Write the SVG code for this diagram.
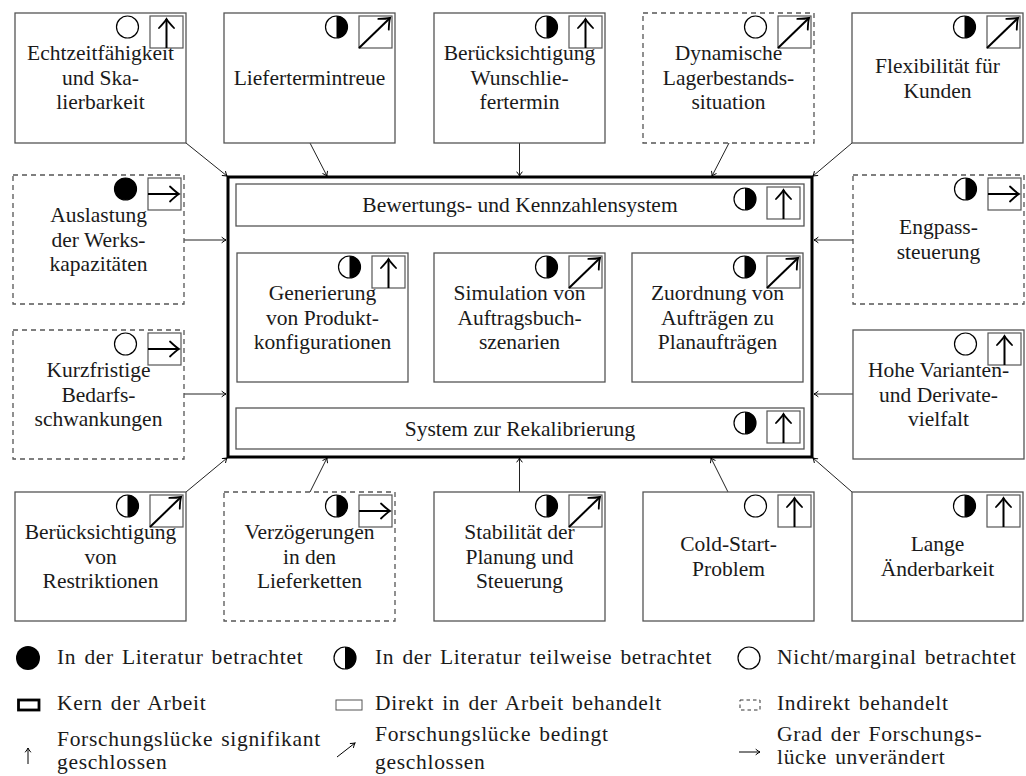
<svg xmlns="http://www.w3.org/2000/svg" xmlns:xlink="http://www.w3.org/1999/xlink" width="1026" height="776" viewBox="0 0 1026 776">
  <style>
    .box{fill:#fff;stroke:#555;stroke-width:1.3}
    .dash{stroke-dasharray:5 4}
    .core{fill:none;stroke:#000;stroke-width:3}
    .lbl{font-family:"Liberation Serif","Times New Roman",serif;font-size:21.5px;text-anchor:middle;fill:#1a1a1a}
    .leg{font-family:"Liberation Serif","Times New Roman",serif;font-size:21.5px;fill:#1a1a1a;letter-spacing:0.7px;word-spacing:2px}
    .ibox{fill:#fff;stroke:#555;stroke-width:1.2}
    .iarr{fill:none;stroke:#000;stroke-width:2;marker-end:url(#head)}
    .conn{fill:none;stroke:#222;stroke-width:1;marker-end:url(#tip)}
    .sarr{fill:none;stroke:#000;stroke-width:1;marker-end:url(#tip)}
  </style>
  <defs>
    <marker id="head" viewBox="-11 -9 13 18" refX="0" refY="0" markerWidth="13" markerHeight="18" markerUnits="userSpaceOnUse" orient="auto">
      <path d="M-9,-7.5 Q-3,-1.8 0,0 Q-3,1.8 -9,7.5" fill="none" stroke="#000" stroke-width="1.8" stroke-linecap="round"/>
    </marker>
    <marker id="tip" viewBox="-6 -4 8 8" refX="0" refY="0" markerWidth="8" markerHeight="8" markerUnits="userSpaceOnUse" orient="auto">
      <path d="M-4,-2.6 Q-1.5,-0.6 0,0 Q-1.5,0.6 -4,2.6" fill="none" stroke="#000" stroke-width="1" stroke-linecap="round"/>
    </marker>
    <!-- literature coverage markers -->
    <g id="c-full"><circle r="11" fill="#000" stroke="#000" stroke-width="1.2"/></g>
    <g id="c-half"><circle r="11" fill="#fff" stroke="#000" stroke-width="1.2"/><path d="M0,-11 A11,11 0 0 1 0,11 Z" fill="#000"/></g>
    <g id="c-none"><circle r="11" fill="#fff" stroke="#000" stroke-width="1.2"/></g>
    <!-- research gap markers -->
    <g id="a-up"><rect class="ibox" width="33" height="32"/><path class="iarr" d="M16.5,32 V3"/></g>
    <g id="a-diag"><rect class="ibox" width="33" height="32"/><path class="iarr" d="M0,32 L31,2"/></g>
    <g id="a-right"><rect class="ibox" width="33" height="32"/><path class="iarr" d="M0,16 H31"/></g>
  </defs>

  <rect width="1026" height="776" fill="#fff"/>

  <!-- connectors -->
  <g id="connectors">
    <path class="conn" d="M186,143 L227,176"/>
    <path class="conn" d="M310,143 L327,176"/>
    <path class="conn" d="M519.5,143 L519.5,176"/>
    <path class="conn" d="M729,143 L712,176"/>
    <path class="conn" d="M852,143 L813,176"/>
    <path class="conn" d="M184,240 L226,240"/>
    <path class="conn" d="M184,394 L226,394"/>
    <path class="conn" d="M853,240 L814,240"/>
    <path class="conn" d="M853,394 L814,394"/>
    <path class="conn" d="M186,492 L227,458"/>
    <path class="conn" d="M310,492 L327,458"/>
    <path class="conn" d="M519.5,492 L519.5,458"/>
    <path class="conn" d="M728,492 L711,458"/>
    <path class="conn" d="M852,492 L813,458"/>
  </g>

  <!-- core of the work -->
  <g id="core">
    <rect class="core" x="228" y="177" width="584" height="280"/>
  </g>
  <g id="bewertung">
    <rect class="box" x="236" y="184" width="568" height="42"/>
    <text class="lbl" x="520" y="212">Bewertungs- und Kennzahlensystem</text>
    <use href="#c-half" x="745" y="199"/>
    <use href="#a-up" x="767" y="187"/>
  </g>
  <g id="generierung">
    <rect class="box" x="237" y="253" width="171" height="129"/>
    <text class="lbl"><tspan x="322.5" y="300">Generierung</tspan><tspan x="322.5" y="324.5">von Produkt-</tspan><tspan x="322.5" y="349">konfigurationen</tspan></text>
    <use href="#c-half" x="349.5" y="267"/>
    <use href="#a-up" x="372" y="256"/>
  </g>
  <g id="simulation">
    <rect class="box" x="434" y="253" width="171" height="129"/>
    <text class="lbl"><tspan x="519.5" y="300">Simulation von</tspan><tspan x="519.5" y="324.5">Auftragsbuch-</tspan><tspan x="519.5" y="349">szenarien</tspan></text>
    <use href="#c-half" x="546.5" y="267"/>
    <use href="#a-diag" x="569" y="256"/>
  </g>
  <g id="zuordnung">
    <rect class="box" x="632" y="253" width="171" height="129"/>
    <text class="lbl"><tspan x="717.5" y="300">Zuordnung von</tspan><tspan x="717.5" y="324.5">Aufträgen zu</tspan><tspan x="717.5" y="349">Planaufträgen</tspan></text>
    <use href="#c-half" x="744.5" y="267"/>
    <use href="#a-diag" x="767" y="256"/>
  </g>
  <g id="rekalibrierung">
    <rect class="box" x="236" y="408" width="568" height="41"/>
    <text class="lbl" x="520" y="435.5">System zur Rekalibrierung</text>
    <use href="#c-half" x="745" y="423"/>
    <use href="#a-up" x="767" y="411"/>
  </g>

  <!-- top row -->
  <g id="echtzeit">
    <rect class="box" x="15" y="13" width="171" height="130"/>
    <text class="lbl"><tspan x="100.5" y="60">Echtzeitfähigkeit</tspan><tspan x="100.5" y="84.5">und Ska-</tspan><tspan x="100.5" y="109">lierbarkeit</tspan></text>
    <use href="#c-none" x="127.5" y="27"/>
    <use href="#a-up" x="150" y="16"/>
  </g>
  <g id="liefertreue">
    <rect class="box" x="224" y="13" width="171" height="130"/>
    <text class="lbl" x="309.5" y="85">Liefertermintreue</text>
    <use href="#c-half" x="336.5" y="27"/>
    <use href="#a-diag" x="359" y="16"/>
  </g>
  <g id="wunschtermin">
    <rect class="box" x="434" y="13" width="171" height="130"/>
    <text class="lbl"><tspan x="519.5" y="60">Berücksichtigung</tspan><tspan x="519.5" y="84.5">Wunschlie-</tspan><tspan x="519.5" y="109">fertermin</tspan></text>
    <use href="#c-half" x="546.5" y="27"/>
    <use href="#a-up" x="569" y="16"/>
  </g>
  <g id="lagerbestand">
    <rect class="box dash" x="643" y="13" width="171" height="130"/>
    <text class="lbl"><tspan x="728.5" y="60">Dynamische</tspan><tspan x="728.5" y="84.5">Lagerbestands-</tspan><tspan x="728.5" y="109">situation</tspan></text>
    <use href="#c-none" x="755.5" y="27"/>
    <use href="#a-diag" x="778" y="16"/>
  </g>
  <g id="flexibilitaet">
    <rect class="box" x="852" y="13" width="171" height="130"/>
    <text class="lbl"><tspan x="937.5" y="73">Flexibilität für</tspan><tspan x="937.5" y="97.5">Kunden</tspan></text>
    <use href="#c-half" x="964.5" y="27"/>
    <use href="#a-diag" x="987" y="16"/>
  </g>

  <!-- left column -->
  <g id="auslastung">
    <rect class="box dash" x="13" y="175" width="171" height="129"/>
    <text class="lbl"><tspan x="98.5" y="222">Auslastung</tspan><tspan x="98.5" y="246.5">der Werks-</tspan><tspan x="98.5" y="271">kapazitäten</tspan></text>
    <use href="#c-full" x="125.5" y="189"/>
    <use href="#a-right" x="148" y="178"/>
  </g>
  <g id="bedarf">
    <rect class="box dash" x="13" y="330" width="171" height="129"/>
    <text class="lbl"><tspan x="98.5" y="377">Kurzfristige</tspan><tspan x="98.5" y="401.5">Bedarfs-</tspan><tspan x="98.5" y="426">schwankungen</tspan></text>
    <use href="#c-none" x="125.5" y="344"/>
    <use href="#a-right" x="148" y="333"/>
  </g>

  <!-- right column -->
  <g id="engpass">
    <rect class="box dash" x="853" y="175" width="171" height="129"/>
    <text class="lbl"><tspan x="938.5" y="234">Engpass-</tspan><tspan x="938.5" y="258.5">steuerung</tspan></text>
    <use href="#c-half" x="965.5" y="189"/>
    <use href="#a-right" x="988" y="178"/>
  </g>
  <g id="varianten">
    <rect class="box" x="853" y="330" width="171" height="129"/>
    <text class="lbl"><tspan x="938.5" y="377">Hohe Varianten-</tspan><tspan x="938.5" y="401.5">und Derivate-</tspan><tspan x="938.5" y="426">vielfalt</tspan></text>
    <use href="#c-none" x="965.5" y="344"/>
    <use href="#a-up" x="988" y="333"/>
  </g>

  <!-- bottom row -->
  <g id="restriktionen">
    <rect class="box" x="15" y="492" width="171" height="129"/>
    <text class="lbl"><tspan x="100.5" y="539">Berücksichtigung</tspan><tspan x="100.5" y="563.5">von</tspan><tspan x="100.5" y="588">Restriktionen</tspan></text>
    <use href="#c-half" x="127.5" y="506"/>
    <use href="#a-diag" x="150" y="495"/>
  </g>
  <g id="lieferketten">
    <rect class="box dash" x="224" y="492" width="171" height="129"/>
    <text class="lbl"><tspan x="309.5" y="539">Verzögerungen</tspan><tspan x="309.5" y="563.5">in den</tspan><tspan x="309.5" y="588">Lieferketten</tspan></text>
    <use href="#c-half" x="336.5" y="506"/>
    <use href="#a-right" x="359" y="495"/>
  </g>
  <g id="stabilitaet">
    <rect class="box" x="434" y="492" width="171" height="129"/>
    <text class="lbl"><tspan x="519.5" y="539">Stabilität der</tspan><tspan x="519.5" y="563.5">Planung und</tspan><tspan x="519.5" y="588">Steuerung</tspan></text>
    <use href="#c-half" x="546.5" y="506"/>
    <use href="#a-diag" x="569" y="495"/>
  </g>
  <g id="coldstart">
    <rect class="box" x="643" y="492" width="171" height="129"/>
    <text class="lbl"><tspan x="728.5" y="551">Cold-Start-</tspan><tspan x="728.5" y="575.5">Problem</tspan></text>
    <use href="#c-none" x="755.5" y="506"/>
    <use href="#a-up" x="778" y="495"/>
  </g>
  <g id="aenderbarkeit">
    <rect class="box" x="852" y="492" width="171" height="129"/>
    <text class="lbl"><tspan x="937.5" y="551">Lange</tspan><tspan x="937.5" y="575.5">Änderbarkeit</tspan></text>
    <use href="#c-half" x="964.5" y="506"/>
    <use href="#a-up" x="987" y="495"/>
  </g>

  <!-- legend -->
  <g id="legend">
    <circle cx="28" cy="658" r="12" fill="#000"/>
    <text class="leg" x="57" y="664">In der Literatur betrachtet</text>
    <use href="#c-half" x="345" y="658"/>
    <text class="leg" x="375" y="664">In der Literatur teilweise betrachtet</text>
    <use href="#c-none" x="749" y="658"/>
    <text class="leg" x="777" y="664">Nicht/marginal betrachtet</text>

    <rect x="18.5" y="700" width="20.5" height="10" fill="none" stroke="#000" stroke-width="2.8"/>
    <text class="leg" x="57" y="710">Kern der Arbeit</text>
    <rect x="336" y="700" width="26" height="10" fill="none" stroke="#555" stroke-width="1"/>
    <text class="leg" x="375" y="710">Direkt in der Arbeit behandelt</text>
    <rect x="740" y="700" width="20" height="10" fill="none" stroke="#333" stroke-width="1" stroke-dasharray="3.5 3"/>
    <text class="leg" x="777" y="710">Indirekt behandelt</text>

    <path class="sarr" d="M28,764 V748"/>
    <text class="leg" x="57" y="746">Forschungslücke signifikant</text>
    <text class="leg" x="57" y="769">geschlossen</text>
    <path class="sarr" d="M337,757 L355,743"/>
    <text class="leg" x="375" y="741">Forschungslücke bedingt</text>
    <text class="leg" x="375" y="769">geschlossen</text>
    <path class="sarr" d="M739,752 H760"/>
    <text class="leg" x="777" y="741">Grad der Forschungs-</text>
    <text class="leg" x="777" y="764">lücke unverändert</text>
  </g>
</svg>
